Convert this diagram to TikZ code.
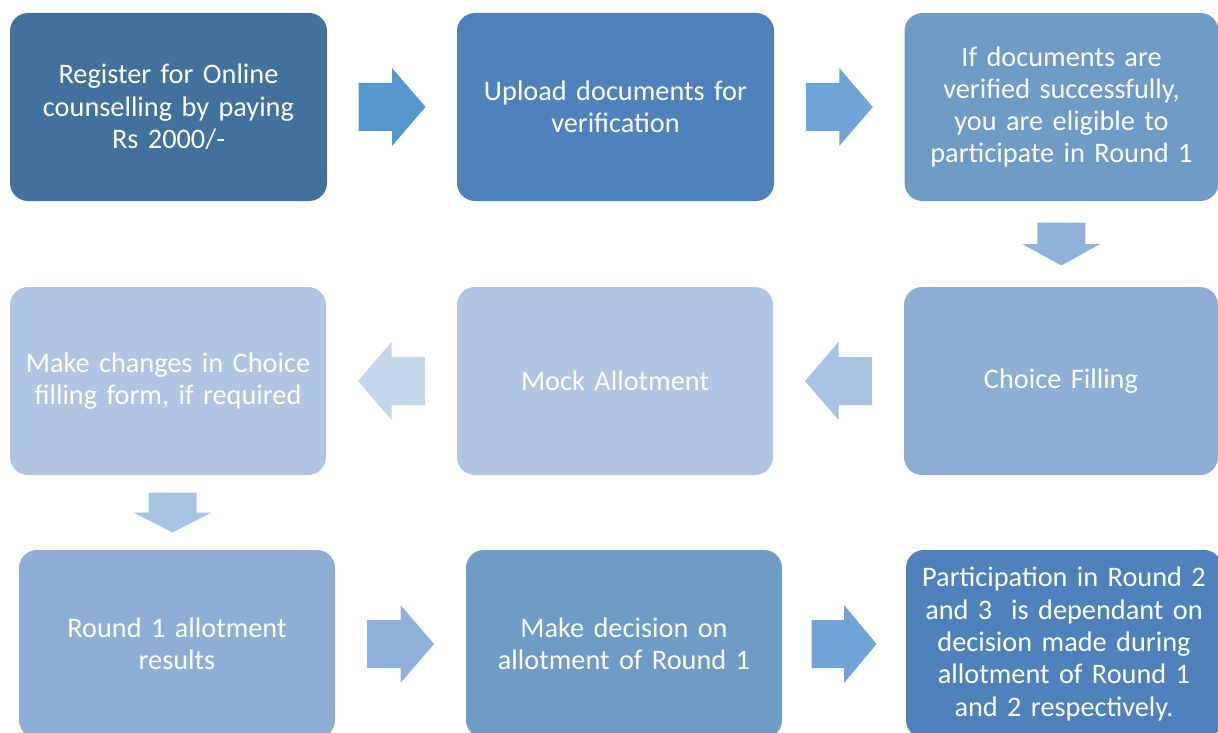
\documentclass[tikz,border=0pt]{standalone}
\usepackage{fontspec}
\setmainfont{Carlito}
\usetikzlibrary{calc}
\definecolor{cA}{RGB}{65,113,156}
\definecolor{cB}{RGB}{79,129,189}
\definecolor{cC}{RGB}{111,155,199}
\definecolor{cD}{RGB}{141,175,214}
\definecolor{cE}{RGB}{175,197,227}
\definecolor{aA}{RGB}{84,150,206}
\definecolor{aB}{RGB}{112,163,215}
\definecolor{aC}{RGB}{143,178,220}
\definecolor{aD}{RGB}{168,195,228}
\definecolor{aE}{RGB}{196,214,236}
\newcommand{\blkarrow}[4]{% position, angle, length, colour
  \fill[#4, shift={#1}, rotate=#2] (-#3/2,-24) -- (0,-24) -- (0,-39) -- (#3/2,0) -- (0,39) -- (0,24) -- (-#3/2,24) -- cycle;}
\tikzset{
  stepbox/.style={rectangle, rounded corners=18pt, minimum width=317pt, minimum height=188pt,
    text width=310pt, align=center, text=white, inner sep=0pt,
    font=\fontsize{28.3}{32.3}\selectfont}
}
\begin{document}
\begin{tikzpicture}[x=1pt,y=-1pt]
\useasboundingbox (0,0) rectangle (1218,733);
\node[stepbox, fill=cA] (b1) at (168.5,107) {Register for Online\\counselling by paying\\Rs 2000/-};
\node[stepbox, fill=cB] (b2) at (615.5,107) {Upload documents for\\verification};
\node[stepbox, fill=cC, minimum width=314pt] (b3) at (1061.5,107) {If documents are\\verified successfully,\\you are eligible to\\participate in Round 1};
\node[stepbox, fill=cE, minimum width=316pt] (b4) at (168,381) {Make changes in Choice\\filling form, if required};
\node[stepbox, fill=cE, minimum width=316pt] (b5) at (615,381) {Mock Allotment};
\node[stepbox, fill=cD, minimum width=314pt] (b6) at (1061,381) {Choice Filling};
\node[stepbox, fill=cD, minimum width=316pt] (b7) at (177,644) {Round 1 allotment\\results};
\node[stepbox, fill=cC, minimum width=316pt] (b8) at (624,644) {Make decision on\\allotment of Round 1};
\node[stepbox, fill=cB, minimum width=316pt] (b9) at (1064,644) {Participation in Round 2\\and 3\ \ is dependant on\\decision made during\\allotment of Round 1\\and 2 respectively.};
\blkarrow{($(b1.east)!0.5!(b2.west)$)}{0}{67}{aA}
\blkarrow{($(b2.east)!0.5!(b3.west)$)}{0}{67}{aB}
\blkarrow{($(b3.south)!0.5!(b6.north)$)}{-90}{43}{aC}
\blkarrow{($(b6.west)!0.5!(b5.east)$)}{180}{67}{aD}
\blkarrow{($(b5.west)!0.5!(b4.east)$)}{180}{67}{aE}
\blkarrow{($(b4.south)!0.5!(b7.north)$)}{-90}{40}{aD}
\blkarrow{($(b7.east)!0.5!(b8.west)$)}{0}{67}{aC}
\blkarrow{($(b8.east)!0.5!(b9.west)$)}{0}{65}{aB}
\end{tikzpicture}
\end{document}
